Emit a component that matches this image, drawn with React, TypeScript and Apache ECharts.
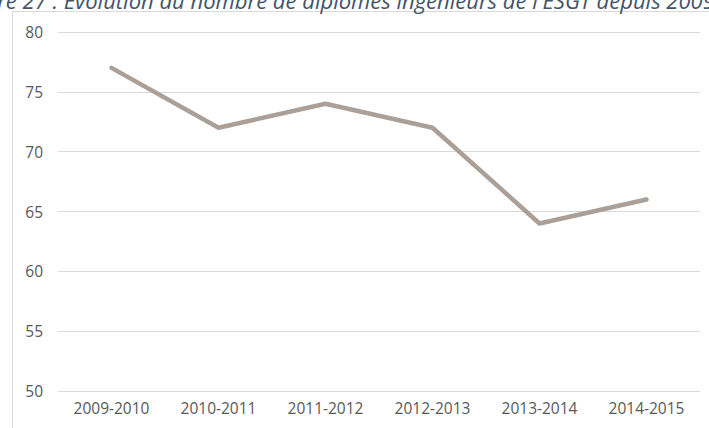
import React, { useEffect, useRef } from "react";
import * as echarts from "echarts";

const categories = ["2009-2010", "2010-2011", "2011-2012", "2012-2013", "2013-2014", "2014-2015"];
const graduates = [77, 72, 74, 72, 64, 66];
const titleText = "Figure 27 : Evolution du nombre de diplômés ingénieurs de l'ESGT depuis 2009";

export default function App() {
  const ref = useRef<HTMLDivElement>(null);
  useEffect(() => {
    document.body.style.margin = "0";
    const chart = echarts.init(ref.current!, null, { renderer: "svg" });
    chart.setOption({
      animation: false,
      backgroundColor: "#ffffff",
      grid: { left: 58, right: 9, top: 32, bottom: 37 },
      xAxis: {
        type: "category",
        data: categories,
        boundaryGap: true,
        axisLine: { show: false },
        axisTick: { show: false },
        axisLabel: { color: "#595959", fontFamily: "Open Sans", fontSize: 15.5, margin: 9 },
      },
      yAxis: {
        type: "value",
        min: 50,
        max: 80,
        interval: 5,
        axisLine: { show: false },
        axisTick: { show: false },
        axisLabel: { color: "#595959", fontFamily: "Open Sans", fontSize: 15.5, margin: 15 },
        splitLine: { lineStyle: { color: "#d9d9d9", width: 1 } },
      },
      series: [
        {
          type: "line",
          data: graduates,
          symbol: "none",
          lineStyle: { color: "#aba097", width: 4.5, cap: "round", join: "round" },
        },
      ],
      graphic: [
        {
          type: "rect",
          shape: { x: 12.5, y: 11.5, width: 900, height: 600 },
          style: { fill: "none", stroke: "#d9d9d9", lineWidth: 1 },
          silent: true,
        },
        {
          type: "text",
          x: -43,
          y: 0,
          style: {
            text: titleText,
            fill: "#44546a",
            font: "italic 22px 'Open Sans'",
            verticalAlign: "middle",
            align: "left",
          },
        },
      ],
    });
    return () => chart.dispose();
  }, []);
  return <div ref={ref} style={{ position: "absolute", left: 0, top: 0, width: 709, height: 428 }} />;
}
